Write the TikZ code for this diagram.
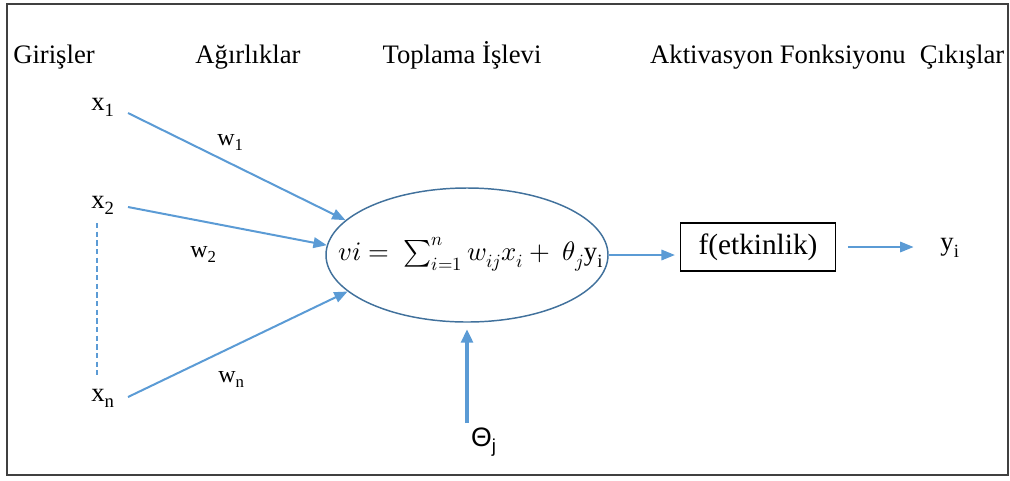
\documentclass[tikz,border=0pt]{standalone}
\usepackage{fontspec}
\usepackage{unicode-math}
\setmainfont{Liberation Serif}
\setmathfont{Latin Modern Math}
\newfontfamily\sansf{Liberation Sans}
\usetikzlibrary{shapes.geometric,arrows.meta}
\definecolor{arr}{HTML}{5B9BD5}
\definecolor{ell}{HTML}{41719C}
\begin{document}
\begin{tikzpicture}[x=0.75pt,y=-0.75pt,
  head/.style={anchor=base, font=\fontsize{20}{24}\selectfont, inner sep=0},
  inp/.style={anchor=base west, font=\fontsize{20}{24}\selectfont, inner sep=0},
  wlab/.style={anchor=base west, font=\fontsize{18}{22}\selectfont, inner sep=0},
  conn/.style={draw=arr, line width=1.5pt, -{Triangle[length=10pt,width=8pt]}},
  thinconn/.style={draw=arr, line width=0.8pt, -{Triangle[length=10pt,width=8pt]}},
  thickconn/.style={draw=arr, line width=2.3pt, -{Triangle[length=10pt,width=9pt]}},
  dashline/.style={draw=arr, line width=1pt, dash pattern=on 4pt off 2.5pt},
]
\useasboundingbox (0,0) rectangle (1010,480);
\draw[line width=2pt, black!75] (7,4) rectangle (1008,475);

% headings
\node[head] (h1) at (54,63) {Girişler};
\node[head] (h2) at (248,63) {Ağırlıklar};
\node[head] (h3) at (462,63) {Toplama İşlevi};
\node[head] (h4) at (778,63) {Aktivasyon Fonksiyonu};
\node[head] (h5) at (962,63) {Çıkışlar};

% inputs
\node[inp] (x1) at (91,110) {x\textsubscript{1}};
\node[inp] (x2) at (91,208) {x\textsubscript{2}};
\node[inp] (xn) at (91,401) {x\textsubscript{n}};
\coordinate (d1) at (97,223);
\coordinate (d2) at (97,375);
\draw[dashline] (d1) -- (d2);

% weights
\node[wlab] (w1) at (217,145) {w\textsubscript{1}};
\node[wlab] (w2) at (190,257) {w\textsubscript{2}};
\node[wlab] (wn) at (218,382) {w\textsubscript{n}};

% summation
\node[ellipse, draw=ell, line width=1.1pt, minimum width=211.5pt, minimum height=100.5pt, inner sep=0] (sum) at (467,255) {};
\node[inner sep=0, font=\fontsize{20}{24}\selectfont] (eq) at (471,254)
  {$vi =\ \sum_{i=1}^{n} w_{ij}x_i +\ \theta_j$y\textsubscript{i}};

\coordinate (s1) at (128,113);
\coordinate (s2) at (128,207);
\coordinate (sn) at (128,397);
\draw[conn] (s1) -- (sum.164);
\draw[conn] (s2) -- (sum.176);
\draw[conn] (sn) -- (sum.197);

% activation
\node[draw, line width=0.8pt, minimum width=116pt, minimum height=36pt, inner sep=0,
      font=\fontsize{22}{26}\selectfont] (act) at (758,247) {f(etkinlik)};
\node[inner sep=0, font=\fontsize{20}{24}\selectfont] (y) at (950,248) {y\textsubscript{i}};
\draw[thinconn, shorten >=4pt] (sum.east) -- (sum.east -| act.west);
\draw[thinconn, shorten <=9pt, shorten >=20pt] (act.east) -- (act.east -| y.west);

% bias
\node[inner sep=0, font=\sansf\fontsize{20}{24}\selectfont] (th) at (484,442) {Θ\textsubscript{j}};
\draw[thickconn, shorten <=3pt, shorten >=5pt] (th.north -| sum.south) -- (sum.south);
\end{tikzpicture}
\end{document}
